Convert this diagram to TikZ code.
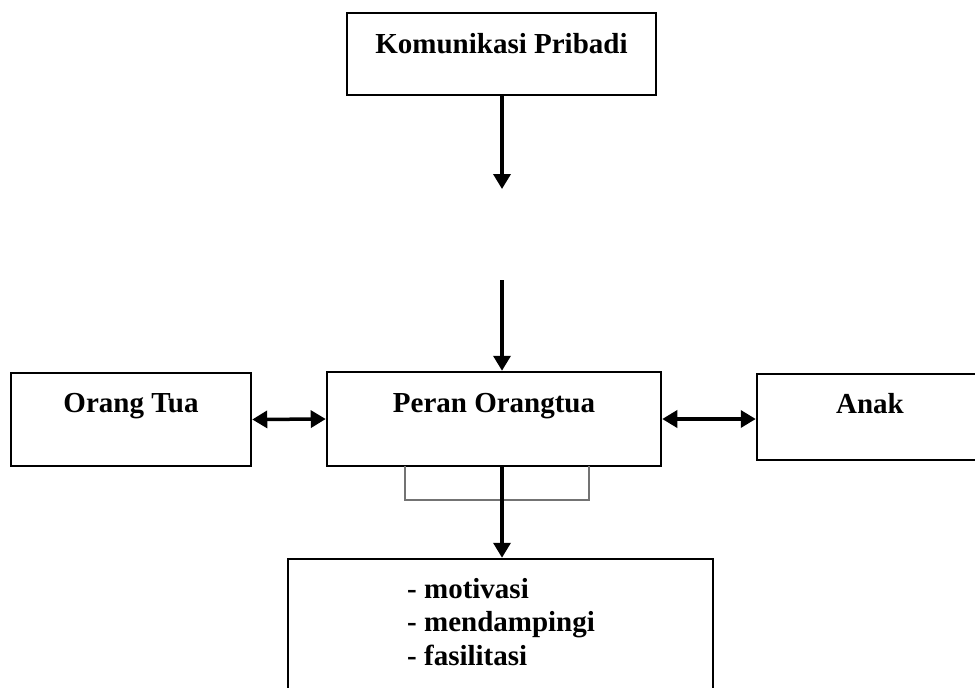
\documentclass[tikz,border=0pt]{standalone}
\usepackage{fontspec}
\setmainfont{Liberation Serif}
\usetikzlibrary{arrows.meta,calc}
\tikzset{
  box/.style={draw=black, line width=2.5pt, rectangle, inner sep=0pt, fill=none},
  lbl/.style={font=\fontsize{29}{33}\selectfont\bfseries, inner sep=0pt, anchor=base},
  conn/.style={line width=3.5pt, -{Triangle[length=15pt,width=17pt]}},
  dconn/.style={line width=3.5pt, {Triangle[length=15pt,width=17pt]}-{Triangle[length=15pt,width=17pt]}},
  brk/.style={draw=black!55, line width=1.6pt}
}
\begin{document}
\begin{tikzpicture}[x=1pt,y=-1pt]
\path[use as bounding box, clip] (0,0) rectangle (975,688);
\fill[white] (0,0) rectangle (975,688);
% boxes
\node[box, minimum width=309pt, minimum height=82pt] (kom) at (501.5,54) {};
\node[box, minimum width=334pt, minimum height=94pt] (peran) at (494,419) {};
\node[box, minimum width=240pt, minimum height=93pt] (orang) at (131,419.5) {};
\node[box, minimum width=240pt, minimum height=86pt] (anak) at (877,417) {};
\node[box, minimum width=425pt, minimum height=160pt] (bot) at (500.5,639) {};
% texts
\node[lbl] (tkom) at (501.5,53) {Komunikasi Pribadi};
\node[lbl] (tperan) at (494,412) {Peran Orangtua};
\node[lbl] (torang) at (131,412) {Orang Tua};
\node[lbl] (tanak) at (870,413) {Anak};
\node[lbl, anchor=base west] (t1) at (407,598) {- motivasi};
\node[lbl, anchor=base west] (t2) at (407,631) {- mendampingi};
\node[lbl, anchor=base west] (t3) at (407,665) {- fasilitasi};
% connectors
\coordinate (e1) at (502,189);
\coordinate (s2) at (502,280);
\draw[conn] (kom.south -| e1) -- (e1);
\draw[conn] (s2) -- (s2 |- peran.north);
\draw[brk] (405,466) -- (405,500) -- (589,500) -- (589,466);
\draw[conn] (s2 |- peran.south) -- (s2 |- bot.north);
\draw[dconn] (orang.east) -- (peran.west);
\draw[dconn] (peran.east) -- (peran.east -| anak.west);
\end{tikzpicture}
\end{document}
